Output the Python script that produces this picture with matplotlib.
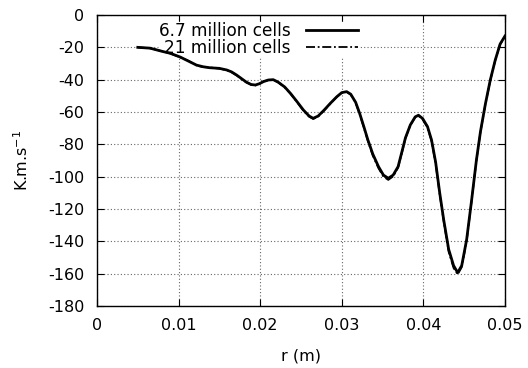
import matplotlib.pyplot as plt

# radial positions (m)
r = [0.0050, 0.0065, 0.0080, 0.0090, 0.0102, 0.0112, 0.0122, 0.0130, 0.0138, 0.0150,
     0.0159, 0.0165, 0.0171, 0.0177, 0.0183, 0.0189, 0.0194, 0.0199, 0.0204, 0.0210,
     0.0216, 0.0222, 0.0230, 0.0237, 0.0245, 0.0253, 0.0260, 0.0265, 0.0271, 0.0278,
     0.0286, 0.0294, 0.0300, 0.0306, 0.0311, 0.0317, 0.0322, 0.0327, 0.0332, 0.0338,
     0.0345, 0.0351, 0.0357, 0.0363, 0.0369, 0.0374, 0.0378, 0.0384, 0.0390, 0.0394,
     0.0399, 0.0405, 0.0410, 0.0415, 0.0420, 0.0425, 0.0431, 0.0437, 0.0442, 0.0447,
     0.0453, 0.0459, 0.0465, 0.0470, 0.0476, 0.0482, 0.0488, 0.0494, 0.0500]

# 6.7 million cells
flux_67 = [-20.0, -20.5, -22.5, -23.7, -26.0, -28.5, -31.0, -32.0, -32.6, -33.0,
           -34.0, -35.2, -37.1, -39.3, -41.5, -43.0, -43.3, -42.5, -41.2, -40.2,
           -40.0, -41.5, -44.5, -48.4, -53.5, -58.8, -62.5, -63.9, -62.5, -59.0,
           -54.6, -50.5, -48.0, -47.4, -49.0, -54.0, -61.0, -69.0, -77.3, -86.0,
           -93.8, -99.0, -101.0, -99.0, -93.8, -84.0, -76.0, -68.0, -63.0, -62.0,
           -64.0, -69.0, -77.3, -91.0, -110.0, -127.0, -145.0, -155.0, -159.4, -155.0,
           -139.0, -115.0, -89.7, -72.0, -55.0, -40.2, -28.0, -18.0, -13.0]

# 21 million cells
flux_21 = [-20.0, -20.6, -22.4, -23.9, -26.2, -28.3, -31.2, -32.2, -32.4, -33.2,
           -34.1, -35.5, -37.3, -39.5, -41.7, -43.2, -43.6, -42.7, -41.0, -40.4,
           -40.1, -41.7, -44.8, -48.6, -53.8, -59.2, -62.9, -64.3, -62.8, -59.3,
           -54.9, -50.6, -48.2, -47.6, -49.3, -54.4, -61.5, -69.6, -78.0, -87.0,
           -94.8, -100.0, -102.0, -99.8, -94.4, -84.6, -76.3, -68.2, -63.2, -62.4,
           -64.5, -69.5, -78.0, -92.0, -111.0, -128.0, -146.5, -156.5, -160.5, -156.0,
           -140.0, -115.5, -90.0, -72.3, -55.2, -40.5, -28.2, -18.3, -13.2]

xticks = [0, 0.01, 0.02, 0.03, 0.04, 0.05]
xticklabels = ['0', '0.01', '0.02', '0.03', '0.04', '0.05']
yticks = [0, -20, -40, -60, -80, -100, -120, -140, -160, -180]

plt.rcParams['font.family'] = 'DejaVu Sans'
plt.rcParams['axes.unicode_minus'] = False
fig = plt.figure(figsize=(5.28, 3.68), dpi=100)
ax = fig.add_axes([0.1837, 0.1685, 0.7727, 0.7907])

ax.plot(r, flux_67, color='black', lw=2.0, label='6.7 million cells', zorder=3)
ax.plot(r, flux_21, color='black', lw=1.3, linestyle=(0, (5, 1.5, 1, 1.5)),
        label='21 million cells', zorder=3.1)

ax.set_xlim(0, 0.05)
ax.set_ylim(-180, 0)
ax.set_xticks(xticks)
ax.set_xticklabels(xticklabels)
ax.set_yticks(yticks)
ax.tick_params(direction='in', length=5, width=0.8, top=True, right=True,
               labelsize=11.5)
ax.tick_params(axis='x', pad=8.5)
ax.tick_params(axis='y', pad=9)
for s in ax.spines.values():
    s.set_linewidth(1.0)
ax.set_axisbelow(True)
ax.grid(True, color='#666666', linestyle=(0, (1, 2)), linewidth=0.8)

ax.set_xlabel('r (m)', fontsize=11.5, labelpad=11)
ax.set_ylabel('K.m.s$^{-1}$', fontsize=11.5, labelpad=12)

leg = ax.legend(loc='upper right', bbox_to_anchor=(0.640, 0.976), markerfirst=False,
                fontsize=12.2, handlelength=3.1, handletextpad=0.9, labelspacing=-0.05,
                borderpad=0.0, borderaxespad=0.0, fancybox=False, framealpha=1,
                edgecolor='white')
leg.set_zorder(2.5)

plt.savefig('out.png', dpi=100)
